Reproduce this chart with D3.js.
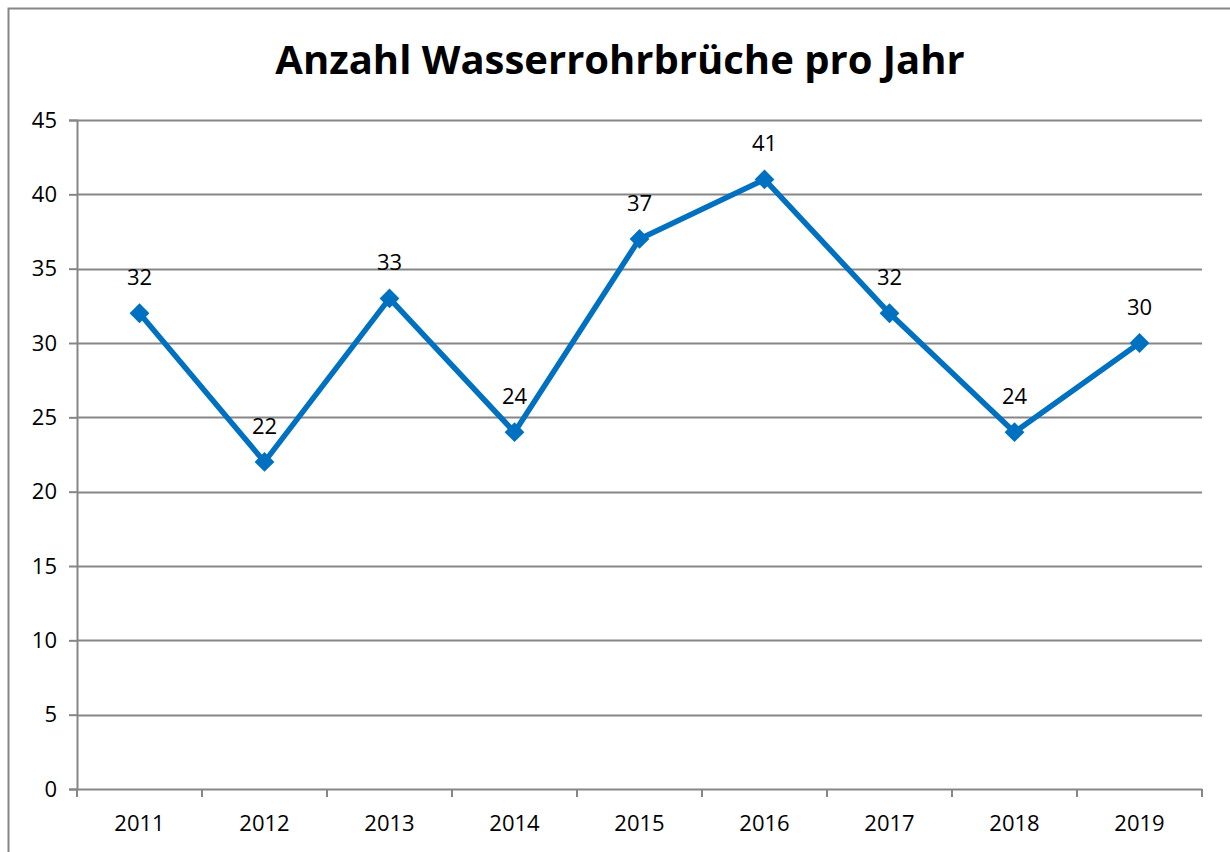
<!DOCTYPE html>
<html>
<head>
<meta charset="utf-8">
<script src="https://cdn.jsdelivr.net/npm/d3@7"></script>
<style>
  body { margin: 0; background: #fff; }
  svg { display: block; font-family: "Open Sans", "Noto Sans", sans-serif; }
</style>
</head>
<body>
<div id="chart"></div>
<script>
// data
const years = ["2011", "2012", "2013", "2014", "2015", "2016", "2017", "2018", "2019"];
const breaks = [32, 22, 33, 24, 37, 41, 32, 24, 30];
const yTicks = [0, 5, 10, 15, 20, 25, 30, 35, 40, 45];

const width = 1230, height = 852;
const margin = { left: 77, right: 28, top: 120, bottom: 63 };

const svg = d3.select("#chart").append("svg")
    .attr("width", width)
    .attr("height", height);

// outer chart border (cut off at right/bottom)
svg.append("rect")
    .attr("x", 8.5).attr("y", 8.5)
    .attr("width", width + 20).attr("height", height + 20)
    .attr("fill", "none")
    .attr("stroke", "#868686")
    .attr("stroke-width", 2);

const x = d3.scaleBand()
    .domain(years)
    .range([margin.left, width - margin.right]);

const y = d3.scaleLinear()
    .domain([0, 45])
    .range([height - margin.bottom, margin.top]);

// gridlines
svg.append("g")
    .selectAll("line")
    .data(yTicks.filter(d => d > 0))
    .enter().append("line")
    .attr("x1", margin.left).attr("x2", width - margin.right)
    .attr("y1", d => Math.round(y(d)) + 0.5).attr("y2", d => Math.round(y(d)) + 0.5)
    .attr("stroke", "#868686")
    .attr("stroke-width", 2);

// y axis
const yAxis = svg.append("g")
    .attr("transform", `translate(${margin.left},0)`)
    .call(d3.axisLeft(y).tickValues(yTicks).tickSize(8).tickPadding(12));

// x axis
const xAxis = svg.append("g")
    .attr("transform", `translate(0,${height - margin.bottom})`)
    .call(d3.axisBottom(x).tickSize(0).tickPadding(26));

[yAxis, xAxis].forEach(g => {
  g.attr("font-family", null).attr("font-size", null);
  g.selectAll("text").attr("font-size", 22).attr("fill", "#000");
  g.selectAll("path, line").attr("stroke", "#868686").attr("stroke-width", 2);
});
xAxis.select(".domain").attr("d", `M${margin.left},0.5H${width - margin.right}`);

// category boundary ticks
svg.append("g")
    .selectAll("line")
    .data(years.map(d => x(d) + x.bandwidth()).concat([margin.left]))
    .enter().append("line")
    .attr("x1", d => d).attr("x2", d => d)
    .attr("y1", height - margin.bottom).attr("y2", height - margin.bottom + 8)
    .attr("stroke", "#868686")
    .attr("stroke-width", 2);

const cx = d => x(d) + x.bandwidth() / 2;

// line
const line = d3.line()
    .x((d, i) => cx(years[i]))
    .y(d => y(d));

svg.append("path")
    .datum(breaks)
    .attr("d", line)
    .attr("fill", "none")
    .attr("stroke", "#0070C0")
    .attr("stroke-width", 5.5)
    .attr("stroke-linejoin", "round");

// diamond markers
svg.append("g")
    .selectAll("path")
    .data(breaks)
    .enter().append("path")
    .attr("d", d3.symbol().type(d3.symbolDiamond2).size(250))
    .attr("transform", (d, i) => `translate(${cx(years[i])},${y(d)})`)
    .attr("fill", "#0070C0");

// data labels
svg.append("g")
    .selectAll("text")
    .data(breaks)
    .enter().append("text")
    .attr("x", (d, i) => cx(years[i]))
    .attr("y", d => y(d) - 28)
    .attr("text-anchor", "middle")
    .attr("font-size", 22)
    .text(d => d);

// title
svg.append("text")
    .attr("x", 620)
    .attr("y", 74)
    .attr("text-anchor", "middle")
    .attr("font-size", 40)
    .attr("font-weight", "bold")
    .text("Anzahl Wasserrohrbrüche pro Jahr");
</script>
</body>
</html>
